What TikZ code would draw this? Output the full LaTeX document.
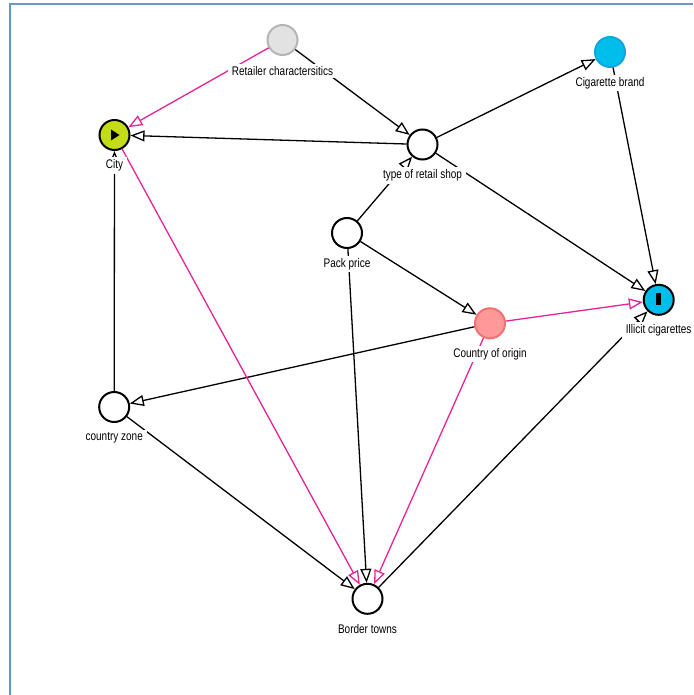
\documentclass[tikz,border=0pt]{standalone}
\usepackage{fontspec}
\setmainfont{Liberation Sans}[FakeStretch=0.8]
\usetikzlibrary{arrows.meta}
\definecolor{pinkedge}{RGB}{230,35,150}
\definecolor{cyanfill}{RGB}{0,190,235}
\definecolor{cyanline}{RGB}{20,165,225}
\definecolor{greyfill}{RGB}{226,226,226}
\definecolor{greyline}{RGB}{180,180,180}
\definecolor{salmonfill}{RGB}{255,152,152}
\definecolor{salmonline}{RGB}{242,112,112}
\definecolor{limefill}{RGB}{196,220,22}
\definecolor{frameleft}{RGB}{91,155,213}
\definecolor{frametop}{RGB}{112,150,200}
\tikzset{
  var/.style={circle,minimum size=30pt,inner sep=0pt,line width=2pt,draw=black,fill=white},
  lbl/.style={fill=white,inner xsep=4pt,inner ysep=2.5pt,font=\fontsize{12.5}{14}\selectfont},
  edgeb/.style={line width=1.3pt,draw=black,-{Triangle[length=14pt,width=11pt,fill=white]}},
  edgep/.style={line width=1.3pt,draw=pinkedge,-{Triangle[length=14pt,width=11pt,fill=white]}},
}
\begin{document}
\begin{tikzpicture}[x=1pt,y=-1pt]
\useasboundingbox (0,0) rectangle (693,695);
% frame
\draw[frameleft,line width=2pt] (10,695) -- (10,4);
\draw[frametop,line width=1.8pt] (9,4.2) -- (693,4.2);
% variables
\node[var,fill=greyfill,draw=greyline] (rc) at (282.5,40) {};
\node[var,fill=limefill] (city) at (114.5,135) {};
\node[var] (type) at (422.5,144.5) {};
\node[var,fill=cyanfill,draw=cyanline] (brand) at (610,52) {};
\node[var] (pack) at (347,233) {};
\node[var,fill=salmonfill,draw=salmonline] (coo) at (490,323.3) {};
\node[var,fill=cyanfill] (ill) at (658.7,299.8) {};
\node[var] (zone) at (114.2,407) {};
\node[var] (bt) at (367.5,598.8) {};
% symbols inside
\fill[black] ([shift={(-3.5,-5.5)}]city.center) -- ([shift={(-3.5,5.5)}]city.center) -- ([shift={(5,0)}]city.center) -- cycle;
\fill[black] ([shift={(-2.3,-6.5)}]ill.center) rectangle ([shift={(2.3,5.5)}]ill.center);
% edges
\draw[edgep] (rc) -- (city);
\draw[edgeb] (rc) -- (type);
\draw[edgeb] (type) -- (city);
\draw[edgeb] (type) -- (brand);
\draw[edgeb] (type) -- (ill);
\draw[edgeb] (pack) -- (type);
\draw[edgeb] (pack) -- (coo);
\draw[edgeb] (pack) -- (bt);
\draw[edgep] (coo) -- (ill);
\draw[edgeb] (coo) -- (zone);
\draw[edgep] (coo) -- (bt);
\draw[edgeb] (brand) -- (ill);
\draw[edgep] (city) -- (bt);
\draw[edgeb] (zone) -- (city);
\draw[edgeb] (zone) -- (bt);
\draw[edgeb] (bt) -- (ill);
% labels
\node[lbl] (rcl) at (282.5,71) {Retailer charactersitics};
\node[lbl] (cityl) at (114.5,165.5) {City};
\node[lbl] (typel) at (422.5,175.5) {type of retail shop};
\node[lbl] (brandl) at (610,83) {Cigarette brand};
\node[lbl] (packl) at (347,264) {Pack price};
\node[lbl] (cool) at (490,354) {Country of origin};
\node[lbl] (illl) at (658.7,330.5) {Illicit cigarettes};
\node[lbl] (zonel) at (114.2,438) {country zone};
\node[lbl] (btl) at (367.5,629) {Border towns};
\end{tikzpicture}
\end{document}
